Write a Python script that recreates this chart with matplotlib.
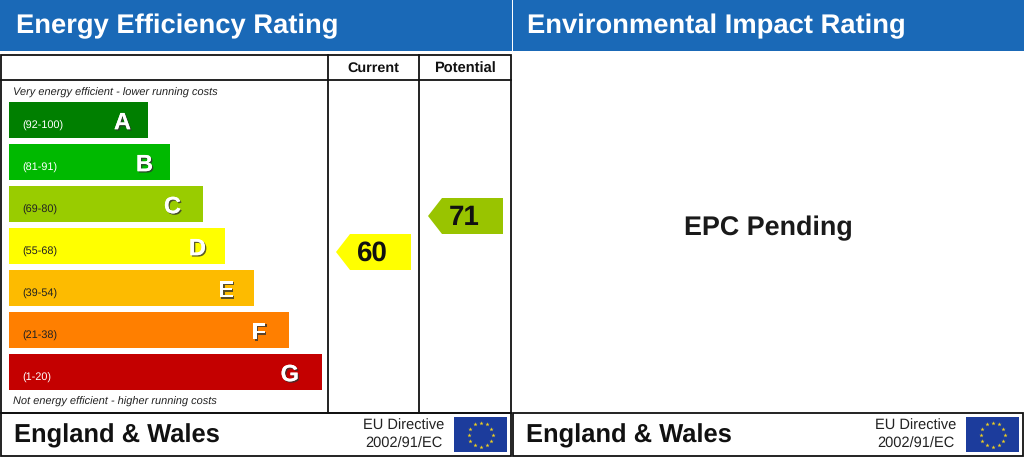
import numpy as np
import matplotlib
matplotlib.use('Agg')
from matplotlib import pyplot as plt
from matplotlib import patheffects as pe
from matplotlib.patches import Rectangle, Polygon

plt.rcParams['font.family'] = ['Liberation Sans', 'DejaVu Sans']
plt.rcParams['text.hinting'] = 'no_hinting'

# data
bands = ['A', 'B', 'C', 'D', 'E', 'F', 'G']
ranges = ['(92-100)', '(81-91)', '(69-80)', '(55-68)', '(39-54)', '(21-38)', '(1-20)']
band_lengths = [139, 161, 194, 216, 245, 280, 313]
band_colors = ['#007f00', '#00b900', '#99cc00', '#ffff00', '#fdbb00', '#ff7f00', '#c40000']
current = 60
potential = 71
score_colors = {60: '#ffff00', 71: '#99c400'}

BLUE = '#1a69b7'
INK = '#111111'
letter_gap = [17, 17, 22, 19, 20, 23, 23]

fig = plt.figure(figsize=(10.24, 4.57), dpi=100)
ax = fig.add_axes([0, 0, 1, 1])
ax.set_xlim(0, 1024)
ax.set_ylim(457, 0)
ax.axis('off')


def box(x0, y0, x1, y1, lw=1.3):
    ax.add_patch(Rectangle((x0, y0), x1 - x0, y1 - y0, fc='none', ec=INK, lw=lw, zorder=3))


# header bars
ax.add_patch(Rectangle((0, 0), 512, 51, fc=BLUE, ec='none'))
ax.add_patch(Rectangle((513, 0), 511, 51, fc=BLUE, ec='none'))
ax.text(16, 26, 'Energy Efficiency Rating', color='white', fontsize=19.7, fontweight='bold', va='center')
ax.text(527, 26, 'Environmental Impact Rating', color='white', fontsize=19.7, fontweight='bold', va='center')

# table frame
box(1, 55, 511, 413)
ax.plot([328, 328], [55, 413], color=INK, lw=1.3)
ax.plot([419, 419], [55, 413], color=INK, lw=1.3)
ax.plot([1, 511], [79.5, 79.5], color=INK, lw=1.3)
ax.text(373, 68.5, 'Current', fontsize=10.4, fontweight='bold', ha='center', va='center', color=INK)
ax.text(464.5, 68.5, 'Potential', fontsize=10.5, fontweight='bold', ha='center', va='center', color=INK)

ax.text(13, 93, 'Very energy efficient - lower running costs', fontsize=7.9, style='italic', va='center', color='#222222')
ax.text(13, 402, 'Not energy efficient - higher running costs', fontsize=7.9, style='italic', va='center', color='#222222')

# rating bands
y_pos = 120 + 42 * np.arange(len(bands))
ax.barh(y_pos, band_lengths, height=36, left=9, color=band_colors, edgecolor='none')
shadow = [pe.withSimplePatchShadow(offset=(1, -1), shadow_rgbFace='#333333', alpha=0.8), pe.Normal()]
for y, length, band, rng, gap in zip(y_pos, band_lengths, bands, ranges, letter_gap):
    ax.text(22, y + 6, rng, fontsize=7.8, va='center', color='white' if band in 'ABG' else '#222222')
    ax.text(9 + length - gap, y + 3, band, fontsize=17, fontweight='bold', ha='right', va='center',
            color='white', path_effects=shadow)


def score_y(score):
    return 252 - (score - 60) * 36 / 11


def arrow(score, right):
    y = score_y(score)
    pts = [(right - 75, y), (right - 61, y - 18), (right, y - 18), (right, y + 18), (right - 61, y + 18)]
    ax.add_patch(Polygon(pts, closed=True, fc=score_colors[score], ec='none'))
    ax.text(right - 39, y + 1.5, str(score), fontsize=20, fontweight='bold', ha='center', va='center', color=INK)


arrow(current, 411)
arrow(potential, 503)

ax.text(768, 228, 'EPC Pending', fontsize=19.4, fontweight='bold', ha='center', va='center', color='#1a1a1a')


# footers
def footer(x0):
    box(x0 + 1, 413, x0 + 511, 456)
    ax.text(x0 + 14, 436, 'England & Wales', fontsize=18.4, fontweight='bold', va='center', color=INK)
    ax.text(x0 + 404, 426, 'EU Directive', fontsize=10.5, ha='center', va='center', color='#222222')
    ax.text(x0 + 404, 444, '2002/91/EC', fontsize=10.5, ha='center', va='center', color='#222222')
    ax.add_patch(Rectangle((x0 + 454, 417), 53, 35, fc='#1c3c9c', ec='none', zorder=4))
    angle = np.radians(np.arange(12) * 30)
    ax.scatter(x0 + 480.5 + 12 * np.sin(angle), 434.5 - 12 * np.cos(angle), marker='*', s=10,
               color='#f0d020', linewidths=0, zorder=5)


footer(0)
footer(512)

fig.savefig('out.png', dpi=100)
